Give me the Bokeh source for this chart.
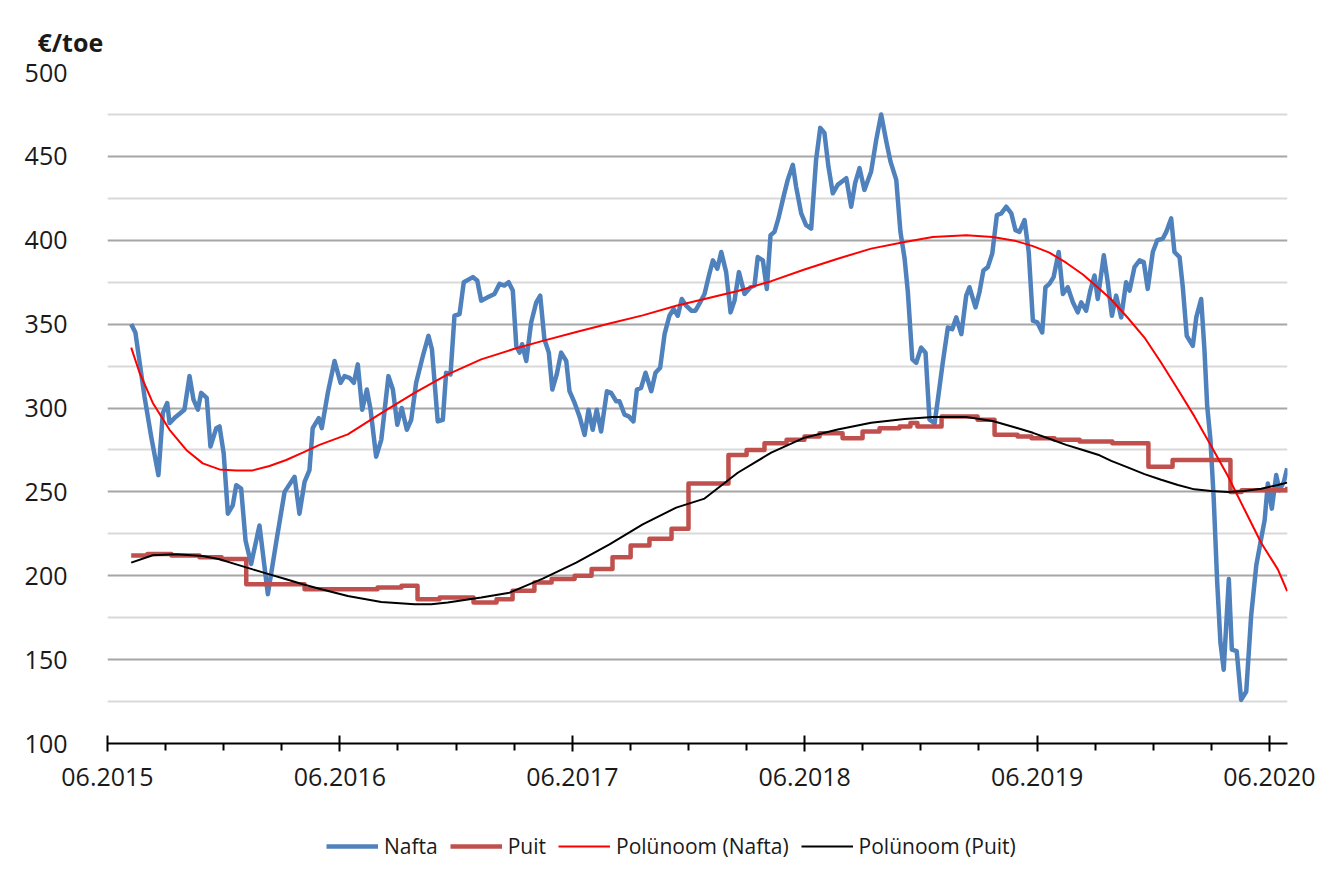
from bokeh.plotting import figure
from bokeh.models import Range1d, FixedTicker, Legend, LegendItem
from bokeh.layouts import column
from bokeh.embed import file_html
from bokeh.resources import INLINE

# time as decimal years
nafta_t = [2015.516, 2015.534, 2015.573, 2015.602, 2015.633, 2015.652, 2015.671, 2015.681, 2015.702, 2015.745,
           2015.767, 2015.784, 2015.803, 2015.817, 2015.841, 2015.857, 2015.882, 2015.896, 2015.914, 2015.932,
           2015.953, 2015.968, 2015.989, 2016.008, 2016.032, 2016.068, 2016.104, 2016.140, 2016.176, 2016.219,
           2016.240, 2016.262, 2016.283, 2016.297, 2016.323, 2016.336, 2016.362, 2016.391, 2016.417, 2016.434,
           2016.455, 2016.474, 2016.491, 2016.510, 2016.530, 2016.546, 2016.570, 2016.592, 2016.623, 2016.642,
           2016.661, 2016.680, 2016.702, 2016.721, 2016.742, 2016.771, 2016.795, 2016.810, 2016.835, 2016.857,
           2016.871, 2016.890, 2016.907, 2016.929, 2016.947, 2016.986, 2017.005, 2017.022, 2017.050, 2017.079,
           2017.101, 2017.122, 2017.140, 2017.158, 2017.173, 2017.187, 2017.198, 2017.216, 2017.237, 2017.259,
           2017.276, 2017.294, 2017.313, 2017.328, 2017.347, 2017.366, 2017.388, 2017.402, 2017.424, 2017.445,
           2017.467, 2017.484, 2017.502, 2017.519, 2017.538, 2017.563, 2017.581, 2017.603, 2017.617, 2017.639,
           2017.657, 2017.677, 2017.692, 2017.710, 2017.729, 2017.754, 2017.772, 2017.792, 2017.811, 2017.832,
           2017.850, 2017.868, 2017.885, 2017.904, 2017.926, 2017.944, 2017.964, 2017.983, 2018.002, 2018.019,
           2018.038, 2018.055, 2018.076, 2018.095, 2018.112, 2018.131, 2018.155, 2018.181, 2018.198, 2018.212,
           2018.234, 2018.251, 2018.267, 2018.284, 2018.301, 2018.323, 2018.341, 2018.363, 2018.377, 2018.399,
           2018.420, 2018.442, 2018.463, 2018.481, 2018.499, 2018.516, 2018.535, 2018.556, 2018.593, 2018.614,
           2018.631, 2018.650, 2018.671, 2018.700, 2018.722, 2018.743, 2018.765, 2018.783, 2018.808, 2018.826,
           2018.844, 2018.858, 2018.877, 2018.894, 2018.915, 2018.934, 2018.951, 2018.973, 2018.987, 2019.008,
           2019.030, 2019.049, 2019.066, 2019.088, 2019.109, 2019.123, 2019.149, 2019.166, 2019.183, 2019.202,
           2019.221, 2019.241, 2019.260, 2019.281, 2019.303, 2019.321, 2019.338, 2019.360, 2019.378, 2019.396,
           2019.415, 2019.436, 2019.450, 2019.467, 2019.485, 2019.507, 2019.525, 2019.546, 2019.568, 2019.589,
           2019.604, 2019.625, 2019.643, 2019.661, 2019.675, 2019.701, 2019.718, 2019.736, 2019.754, 2019.776,
           2019.797, 2019.812, 2019.833, 2019.855, 2019.873, 2019.890, 2019.912, 2019.931, 2019.955, 2019.970,
           2019.991, 2020.005, 2020.027, 2020.041, 2020.058, 2020.084, 2020.099, 2020.120, 2020.134, 2020.146,
           2020.160, 2020.174, 2020.189, 2020.203, 2020.217, 2020.239, 2020.252, 2020.273, 2020.292, 2020.314,
           2020.335, 2020.357, 2020.378, 2020.393, 2020.407, 2020.424, 2020.443, 2020.457, 2020.476, 2020.490]
nafta_v = [350, 345, 307, 283, 260, 297, 303, 291, 294, 299,
           319, 305, 299, 309, 306, 277, 288, 289, 273, 237,
           242, 254, 252, 221, 207, 230, 189, 220, 250, 259,
           237, 256, 263, 288, 294, 288, 309, 328, 315, 319,
           318, 315, 326, 299, 311, 299, 271, 281, 319, 311,
           290, 300, 287, 293, 315, 331, 343, 335, 292, 293,
           321, 320, 355, 356, 375, 378, 376, 364, 366, 368,
           374, 373, 375, 370, 337, 333, 338, 328, 351, 363,
           367, 341, 333, 311, 320, 333, 328, 310, 303, 295,
           284, 299, 287, 299, 286, 310, 309, 304, 304, 296,
           295, 292, 311, 312, 321, 310, 321, 324, 344, 355,
           359, 355, 365, 361, 358, 358, 363, 368, 379, 388,
           383, 393, 381, 357, 364, 381, 368, 372, 373, 390,
           388, 371, 403, 405, 413, 426, 436, 445, 432, 416,
           409, 407, 448, 467, 464, 444, 428, 433, 437, 420,
           434, 443, 430, 441, 460, 475, 459, 447, 436, 405,
           389, 369, 329, 327, 336, 333, 293, 291, 305, 327,
           348, 347, 354, 344, 367, 372, 360, 369, 382, 384,
           392, 415, 416, 420, 416, 406, 405, 412, 393, 352,
           351, 345, 372, 374, 378, 393, 368, 372, 363, 357,
           363, 358, 370, 379, 365, 391, 375, 355, 367, 354,
           375, 370, 384, 388, 387, 371, 393, 400, 401, 405,
           413, 393, 390, 372, 343, 337, 354, 365, 335, 301,
           281, 246, 196, 160, 144, 198, 156, 155, 126, 131,
           176, 206, 222, 233, 255, 240, 260, 251, 256, 264]

puit_t = [2015.516, 2015.586, 2015.689, 2015.810, 2015.905, 2016.011, 2016.262, 2016.576, 2016.679, 2016.748,
          2016.843, 2016.989, 2017.088, 2017.157, 2017.251, 2017.325, 2017.424, 2017.497, 2017.587, 2017.665,
          2017.746, 2017.841, 2017.914, 2018.086, 2018.164, 2018.241, 2018.336, 2018.413, 2018.478, 2018.577,
          2018.663, 2018.736, 2018.822, 2018.869, 2018.899, 2019.003, 2019.158, 2019.231, 2019.330, 2019.390,
          2019.489, 2019.597, 2019.738, 2019.893, 2019.997, 2020.246, 2020.294, 2020.490]
puit_v = [212, 213, 212, 211, 210, 195, 192, 193, 194, 186,
          187, 184, 186, 191, 196, 198, 200, 204, 211, 218,
          222, 228, 255, 272, 275, 279, 281, 283, 285, 282,
          286, 288, 289, 291, 289, 295, 293, 284, 283, 282,
          281, 280, 279, 265, 269, 250, 251, 253]

trend_nafta_t = [2015.516, 2015.552, 2015.609, 2015.681, 2015.753, 2015.824, 2015.896, 2015.968, 2016.039, 2016.111,
                 2016.183, 2016.254, 2016.326, 2016.448, 2016.592, 2016.735, 2016.878, 2017.022, 2017.165, 2017.287,
                 2017.431, 2017.574, 2017.717, 2017.861, 2017.983, 2018.126, 2018.270, 2018.413, 2018.556, 2018.700,
                 2018.844, 2018.965, 2019.109, 2019.223, 2019.324, 2019.396, 2019.467, 2019.539, 2019.611, 2019.683,
                 2019.733, 2019.804, 2019.876, 2019.948, 2020.020, 2020.091, 2020.163, 2020.235, 2020.306, 2020.378,
                 2020.450, 2020.490]
trend_nafta_v = [336, 321, 303, 287, 275, 267, 263.4, 262.8, 262.8, 265.4,
                 269, 273.4, 278, 284.3, 297, 309, 320, 329, 335.3, 340,
                 345.3, 350.4, 355.2, 361, 365, 369.7, 375.6, 382.6, 389, 395,
                 399, 402, 403, 402, 399.5, 396.5, 392.6, 386.6, 379.6, 371,
                 364.7, 353.8, 342, 327, 311, 295, 277.3, 259.5, 239.6, 219.7,
                 203.8, 190.9]

trend_puit_t = [2015.516, 2015.609, 2015.710, 2015.824, 2015.896, 2015.968, 2016.039, 2016.111, 2016.183, 2016.254,
                2016.326, 2016.448, 2016.592, 2016.735, 2016.807, 2016.878, 2017.022, 2017.144, 2017.287, 2017.431,
                2017.574, 2017.717, 2017.861, 2017.983, 2018.126, 2018.270, 2018.413, 2018.556, 2018.700, 2018.844,
                2018.965, 2019.109, 2019.223, 2019.324, 2019.396, 2019.467, 2019.539, 2019.611, 2019.683, 2019.733,
                2019.804, 2019.876, 2019.948, 2020.020, 2020.091, 2020.163, 2020.235, 2020.306, 2020.378, 2020.450,
                2020.490]
trend_puit_v = [207.8, 212.2, 212.8, 211.8, 209.8, 206.8, 203.8, 200.8, 197.9, 194.9,
                192.3, 187.9, 184.4, 183, 183, 184, 187, 189.9, 198.3, 207.8,
                218.7, 230.6, 240.6, 246, 261.4, 273.4, 282.3, 287.2, 291.2, 293.5,
                294.6, 294.6, 292.2, 288.2, 285.2, 281.7, 278, 275, 271.8, 268.5,
                264.6, 260.6, 257.2, 254.1, 251.5, 250.5, 249.9, 250.5, 251.9, 254.1,
                255.5]

x_ticks = [2015.414, 2016.414, 2017.414, 2018.414, 2019.414, 2020.414]
x_tick_labels = ["06.2015", "06.2016", "06.2017", "06.2018", "06.2019", "06.2020"]
x_minor = [2015.414 + 0.25 * k for k in range(1, 20) if k % 4 != 0]
y_ticks = [100, 150, 200, 250, 300, 350, 400, 450, 500]
y_minor = [125, 175, 225, 275, 325, 375, 425, 475]

series_labels = ["Nafta", "Puit", "Polünoom (Nafta)", "Polünoom (Puit)"]

FONT = "Open Sans"
TXT = "#1a1a1a"
C_NAFTA, C_PUIT, C_TN, C_TP = "#4F81BD", "#C0504D", "#FF0000", "black"

p = figure(frame_width=1180, frame_height=671, output_backend="svg", toolbar_location=None,
           x_range=Range1d(2015.414, 2020.4915), y_range=Range1d(100, 500),
           min_border_left=107, min_border_right=33, min_border_top=72, min_border_bottom=73)
p.outline_line_color = None
p.background_fill_color = "white"
p.border_fill_color = "white"

p.title.text = "€/toe"
p.title.text_font = FONT
p.title.text_font_size = "25px"
p.title.text_font_style = "bold"
p.title.text_color = TXT
p.title.align = "left"
p.title.offset = -70
p.title.standoff = 28

xa = p.xaxis[0]
xa.ticker = FixedTicker(ticks=x_ticks, minor_ticks=x_minor)
xa.major_label_overrides = {t: l for t, l in zip(x_ticks, x_tick_labels)}
xa.axis_line_color = "black"
xa.axis_line_width = 2
xa.major_tick_line_color = "black"
xa.major_tick_line_width = 2
xa.major_tick_in = 8
xa.major_tick_out = 8
xa.minor_tick_line_color = "black"
xa.minor_tick_line_width = 2
xa.minor_tick_in = 0
xa.minor_tick_out = 7
xa.major_label_text_font = FONT
xa.major_label_text_font_size = "25px"
xa.major_label_text_color = TXT
xa.major_label_standoff = 16

ya = p.yaxis[0]
ya.ticker = FixedTicker(ticks=y_ticks, minor_ticks=y_minor)
ya.axis_line_color = None
ya.major_tick_line_color = None
ya.minor_tick_line_color = None
ya.major_label_text_font = FONT
ya.major_label_text_font_size = "25px"
ya.major_label_text_color = TXT
ya.major_label_standoff = 34

p.xgrid.visible = False
p.ygrid.grid_line_color = "#a6a6a6"
p.ygrid.grid_line_width = 2
p.ygrid.minor_grid_line_color = "#d9d9d9"
p.ygrid.minor_grid_line_width = 2

p.line(nafta_t, nafta_v, line_color=C_NAFTA, line_width=4.5, line_join="round")
p.step(puit_t, puit_v, mode="after", line_color=C_PUIT, line_width=4.5, line_join="round")
p.line(trend_nafta_t, trend_nafta_v, line_color=C_TN, line_width=2)
p.line(trend_puit_t, trend_puit_v, line_color=C_TP, line_width=2)

# legend strip below the chart (its series lie outside this strip's ranges, only the legend shows)
lg = figure(width=1320, height=60, output_backend="svg", toolbar_location=None,
            x_range=Range1d(0, 1), y_range=Range1d(0, 1),
            x_axis_location=None, y_axis_location=None,
            min_border_left=0, min_border_right=0, min_border_top=0, min_border_bottom=0)
lg.outline_line_color = None
lg.grid.visible = False
lg.background_fill_color = "white"
lg.border_fill_color = "white"
g1 = lg.line(nafta_t, nafta_v, line_color=C_NAFTA, line_width=4.5)
g2 = lg.line(puit_t, puit_v, line_color=C_PUIT, line_width=4.5)
g3 = lg.line(trend_nafta_t, trend_nafta_v, line_color=C_TN, line_width=2)
g4 = lg.line(trend_puit_t, trend_puit_v, line_color=C_TP, line_width=2)
legend = Legend(items=[LegendItem(label=lab, renderers=[r]) for lab, r in zip(series_labels, [g1, g2, g3, g4])],
                orientation="horizontal", location=(219, 16),
                label_text_font=FONT, label_text_font_size="21px", label_text_color=TXT,
                glyph_width=52, glyph_height=20, label_standoff=6, spacing=12,
                padding=0, margin=0, border_line_color=None, background_fill_alpha=0)
lg.add_layout(legend, "center")

layout = column(p, lg, spacing=0)
open("out.html", "w").write(file_html(layout, INLINE))
